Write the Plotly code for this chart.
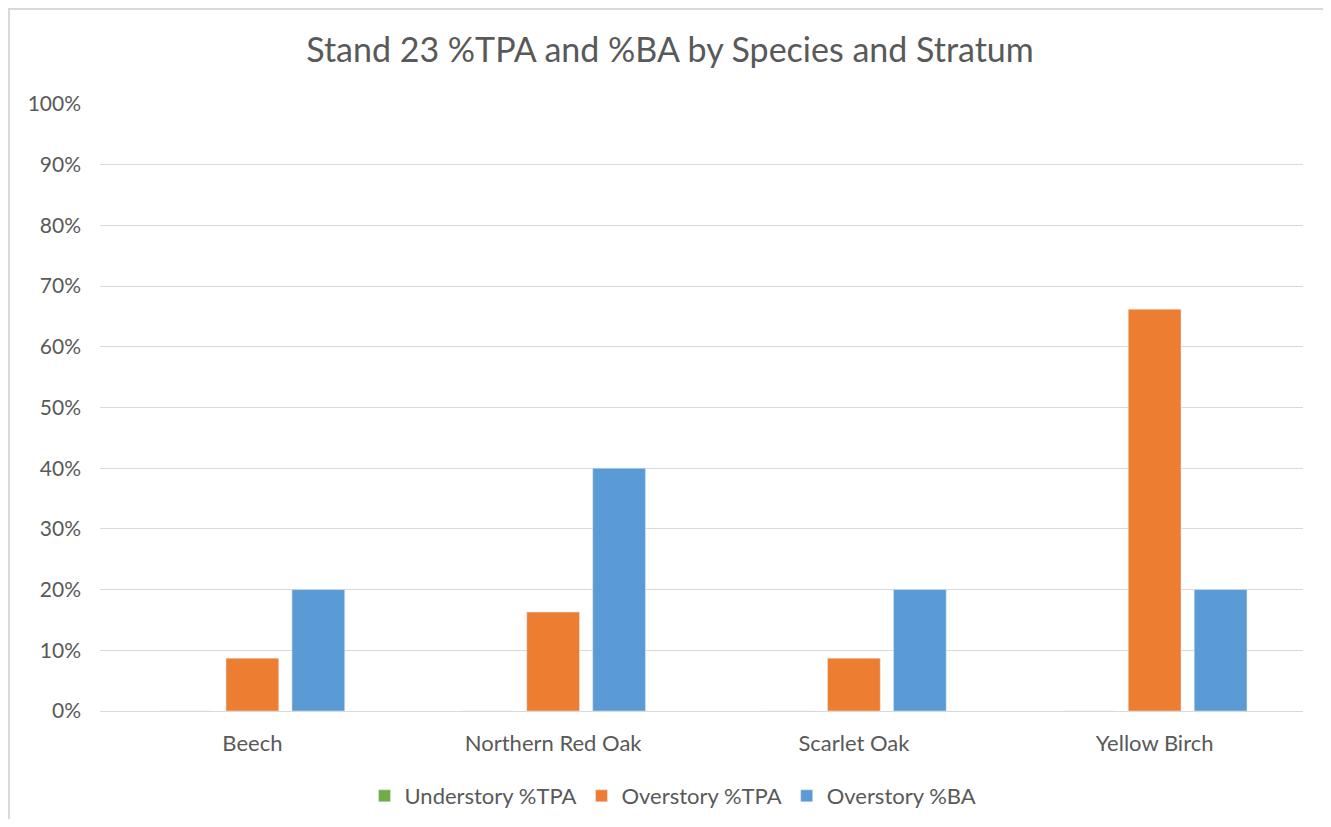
import plotly.graph_objects as go

species = ["Beech", "Northern Red Oak", "Scarlet Oak", "Yellow Birch"]
understory_tpa = [0.0, 0.0, 0.0, 0.0]
overstory_tpa = [0.087, 0.163, 0.087, 0.662]
overstory_ba = [0.20, 0.40, 0.20, 0.20]

FONT = "Lato"
GRAY = "#595959"

fig = go.Figure()
fig.add_trace(go.Bar(name="Understory %TPA", x=species, y=understory_tpa, marker_color="#70AD47"))
fig.add_trace(go.Bar(name="Overstory %TPA", x=species, y=overstory_tpa, marker_color="#ED7D31"))
fig.add_trace(go.Bar(name="Overstory %BA", x=species, y=overstory_ba, marker_color="#5B9BD5"))

# page has an 8px body margin, so the figure is sized/offset to compensate
W, H = 1315, 811
L, R, T, B = 92, 20, 96, 108
PH = H - T - B
PW = W - L - R
shift = 2.0 / (PW / len(species))  # small category offset seen in reference

fig.update_layout(
    width=W, height=H,
    paper_bgcolor="white", plot_bgcolor="white",
    barmode="group", bargap=0.342, bargroupgap=0.2,
    margin=dict(l=L, r=R, t=T, b=B, autoexpand=False),
    title=dict(text="Stand 23 %TPA and %BA by Species and Stratum",
               x=(670 - 8) / W, xanchor="center", xref="container", y=1 - 42 / H, yanchor="middle",
               font=dict(family=FONT, size=34, color=GRAY)),
    font=dict(family=FONT, color=GRAY, size=20),
    legend=dict(orientation="h", x=(673 - 8) / W, xanchor="center", xref="container",
                y=(PH - (788 - T)) / PH, yanchor="middle",
                font=dict(family=FONT, size=22, color=GRAY), traceorder="normal",
                itemwidth=30, tracegroupgap=0),
    showlegend=True,
)
fig.update_yaxes(range=[0, 1], dtick=0.1, tickformat=".0%", gridcolor="#D9D9D9",
                 gridwidth=1, zeroline=False, showline=False, ticks="",
                 ticklabelstandoff=18, tickfont=dict(family=FONT, size=21, color=GRAY))
fig.update_xaxes(range=[-0.5 - shift, len(species) - 0.5 - shift],
                 showline=True, linecolor="#D9D9D9", linewidth=1, ticks="",
                 ticklabelstandoff=13, tickfont=dict(family=FONT, size=22, color=GRAY))

# outer chart border (top and left edges visible in reference)
fig.add_shape(type="rect", xref="paper", yref="paper",
              x0=(1 - L) / PW, x1=1.05, y0=-0.3, y1=(PH + T - 1) / PH,
              line=dict(color="#D9D9D9", width=2), fillcolor="rgba(0,0,0,0)", layer="below")

fig.write_html("out.html")
